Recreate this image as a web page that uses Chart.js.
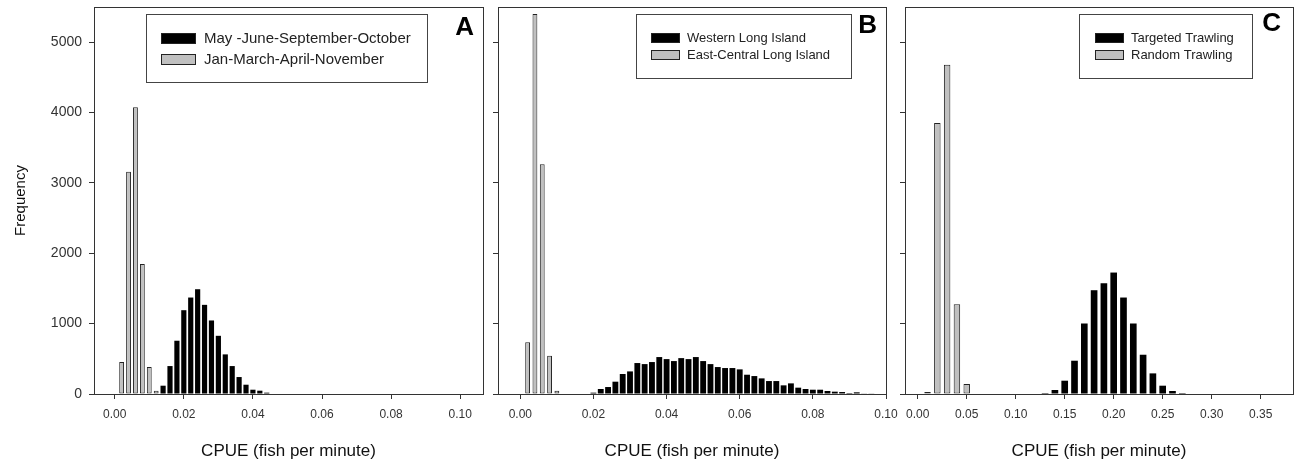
<!DOCTYPE html>
<html>
<head>
<meta charset="utf-8">
<script src="https://cdn.jsdelivr.net/npm/chart.js@4.4.1/dist/chart.umd.min.js"></script>
<style>
html, body { margin: 0; padding: 0; background: #fff; }
#wrap { position: relative; width: 1297px; height: 465px; overflow: hidden; }
canvas { position: absolute; top: 0; }
</style>
</head>
<body>
<div id="wrap">
<canvas id="grafA" width="488" height="465" style="left:0px"></canvas>
<canvas id="grafB" width="420" height="465" style="left:488px"></canvas>
<canvas id="grafC" width="404" height="465" style="left:893px"></canvas>
</div>
<script>
// bin centres (CPUE) and frequencies for each histogram

// A - season
const cpueA_nero = [0.014,0.016,0.018,0.020,0.022,0.024,0.026,0.028,0.030,0.032,0.034,0.036,0.038,0.040,0.042,0.044];
const freqA_nero = [118,397,757,1191,1371,1489,1267,1045,827,563,397,241,132,61,47,19];
const cpueA_grigio = [0.002,0.004,0.006,0.008,0.010,0.012];
const freqA_grigio = [454,3158,4074,1848,383,45];

// B - area
const cpueB_nero = [0.020,0.022,0.024,0.026,0.028,0.030,0.032,0.034,0.036,0.038,
                    0.040,0.042,0.044,0.046,0.048,0.050,0.052,0.054,0.056,0.058,
                    0.060,0.062,0.064,0.066,0.068,0.070,0.072,0.074,0.076,0.078,
                    0.080,0.082,0.084,0.086,0.088,0.090,0.092,0.094,0.096];
const freqB_nero = [19,71,99,175,284,321,440,425,454,525,
                    496,468,510,496,525,468,425,383,369,369,
                    350,274,255,222,184,184,123,151,90,71,
                    61,61,43,33,28,14,24,9,9];
const cpueB_grigio = [0.002,0.004,0.006,0.008,0.010];
const freqB_grigio = [737,5402,3266,543,47];

// C - trawling
const cpueC_nero = [0.13,0.14,0.15,0.16,0.17,0.18,0.19,0.20,0.21,0.22,0.23,0.24,0.25,0.26,0.27];
const freqC_nero = [14,57,189,473,1002,1475,1574,1726,1371,1002,558,293,118,43,14];
const cpueC_grigio = [0.01,0.02,0.03,0.04,0.05];
const freqC_grigio = [28,3852,4679,1276,142];

const etichetteA = ["May -June-September-October", "Jan-March-April-November"];
const etichetteB = ["Western Long Island", "East-Central Long Island"];
const etichetteC = ["Targeted Trawling", "Random Trawling"];

const tickX_AB = [0, 0.02, 0.04, 0.06, 0.08, 0.10];
const tickX_C = [0, 0.05, 0.10, 0.15, 0.20, 0.25, 0.30, 0.35];
const tickY = [0, 1000, 2000, 3000, 4000, 5000];

const FONT = "'Liberation Sans', Arial, sans-serif";

// frame, letter and boxed legend drawn inside the plot area
const cornice = {
	id: 'cornice',
	afterDraw(chart, args, opt) {
		const ctx = chart.ctx;
		const a = chart.chartArea;
		ctx.save();
		ctx.strokeStyle = '#333';
		ctx.lineWidth = 1;
		ctx.strokeRect(Math.round(a.left) + 0.5, Math.round(a.top) + 0.5,
			Math.round(a.right - a.left), Math.round(a.bottom - a.top));

		ctx.fillStyle = '#000';
		ctx.font = 'bold 26px ' + FONT;
		ctx.textAlign = 'right';
		ctx.textBaseline = 'middle';
		ctx.fillText(opt.lettera, a.right - opt.lettDx, a.top + opt.lettDy);

		const L = opt.legenda;
		const bx = Math.round(a.left + L.x), by = Math.round(a.top + L.y);
		ctx.fillStyle = '#fff';
		ctx.fillRect(bx, by, L.w, L.h);
		ctx.strokeStyle = '#444';
		ctx.strokeRect(bx + 0.5, by + 0.5, L.w, L.h);
		chart.data.datasets.forEach(function(ds, i) {
			const ry = by + L.righe[i];
			ctx.fillStyle = ds.backgroundColor;
			ctx.fillRect(bx + L.sx, ry, L.sw, L.sh);
			ctx.strokeStyle = '#222';
			ctx.strokeRect(bx + L.sx + 0.5, ry + 0.5, L.sw - 1, L.sh - 1);
			ctx.fillStyle = '#222';
			ctx.font = L.font;
			ctx.textAlign = 'left';
			ctx.textBaseline = 'middle';
			ctx.fillText(ds.label, bx + L.tx, ry + L.sh / 2 + 0.5);
		});
		ctx.restore();
	}
};

function punti(xs, ys) {
	return xs.map(function(x, i) { return {x: x, y: ys[i]}; });
}

function istogramma(id, cfg) {
	return new Chart(document.getElementById(id), {
		type: 'bar',
		data: {
			datasets: [{
				label: cfg.etichette[0],
				data: punti(cfg.xNero, cfg.yNero),
				backgroundColor: '#000000',
				borderWidth: 0,
				grouped: false,
				categoryPercentage: 1,
				barPercentage: cfg.barNero
			}, {
				label: cfg.etichette[1],
				data: punti(cfg.xGrigio, cfg.yGrigio),
				backgroundColor: '#c0c0c0',
				borderColor: '#222222',
				borderWidth: 1,
				borderSkipped: false,
				grouped: false,
				categoryPercentage: 1,
				barPercentage: cfg.barGrigio
			}]
		},
		options: {
			responsive: false,
			animation: false,
			events: [],
			layout: { padding: { top: 7, right: cfg.padDx, left: 0, bottom: 0 } },
			plugins: {
				legend: { display: false },
				tooltip: { enabled: false },
				cornice: {
					lettera: cfg.lettera,
					lettDx: cfg.lettDx,
					lettDy: cfg.lettDy,
					legenda: cfg.legenda
				}
			},
			scales: {
				x: {
					type: 'linear',
					min: cfg.xMin,
					max: cfg.xMax,
					offset: false,
					afterBuildTicks: function(s) { s.ticks = cfg.tickX.map(function(v) { return {value: v}; }); },
					afterFit: function(s) { s.height = 71; s.paddingLeft = 0; s.paddingRight = 0; },
					border: { display: false },
					grid: { offset: false, drawOnChartArea: false, drawTicks: true, tickLength: 5, color: '#333' },
					ticks: {
						autoSkip: false,
						maxRotation: 0,
						padding: 8,
						color: '#333',
						font: { family: FONT, size: 12 },
						callback: function(v) { return v.toFixed(2); }
					},
					title: {
						display: true,
						text: 'CPUE (fish per minute)',
						color: '#111',
						font: { family: FONT, size: 17 },
						padding: { top: 0, bottom: 3 }
					}
				},
				y: {
					min: 0,
					max: 5500,
					afterBuildTicks: function(s) { s.ticks = tickY.map(function(v) { return {value: v}; }); },
					afterFit: function(s) { s.width = cfg.larghezzaY; s.paddingTop = 0; s.paddingBottom = 0; },
					border: { display: false },
					grid: { drawOnChartArea: false, drawTicks: true, tickLength: 5, color: '#333' },
					ticks: {
						display: cfg.mostraY,
						padding: 7,
						color: '#333',
						font: { family: FONT, size: 14 },
						callback: function(v) { return String(v); }
					},
					title: {
						display: cfg.mostraY,
						text: 'Frequency',
						color: '#111',
						font: { family: FONT, size: 15 },
						padding: { top: 12, bottom: 0 }
					}
				}
			}
		},
		plugins: [cornice]
	});
}

istogramma("grafA", {
	xNero: cpueA_nero, yNero: freqA_nero, xGrigio: cpueA_grigio, yGrigio: freqA_grigio,
	etichette: etichetteA, tickX: tickX_AB, xMin: -0.006, xMax: 0.1066,
	barNero: 0.75, barGrigio: 0.7,
	larghezzaY: 94, mostraY: true, padDx: 5,
	lettera: 'A', lettDx: 9, lettDy: 21,
	legenda: { x: 52, y: 7, w: 281, h: 68, sx: 15, sw: 35, sh: 11, righe: [19, 40], tx: 58, font: '15px ' + FONT }
});

istogramma("grafB", {
	xNero: cpueB_nero, yNero: freqB_nero, xGrigio: cpueB_grigio, yGrigio: freqB_grigio,
	etichette: etichetteB, tickX: tickX_AB, xMin: -0.0061, xMax: 0.100,
	barNero: 0.8, barGrigio: 0.66,
	larghezzaY: 10, mostraY: false, padDx: 22,
	lettera: 'B', lettDx: 9, lettDy: 19,
	legenda: { x: 138, y: 7, w: 215, h: 64, sx: 15, sw: 29, sh: 10, righe: [19, 36], tx: 51, font: '13px ' + FONT }
});

istogramma("grafC", {
	xNero: cpueC_nero, yNero: freqC_nero, xGrigio: cpueC_grigio, yGrigio: freqC_grigio,
	etichette: etichetteC, tickX: tickX_C, xMin: -0.013, xMax: 0.383,
	barNero: 0.68, barGrigio: 0.66,
	larghezzaY: 12, mostraY: false, padDx: 4,
	lettera: 'C', lettDx: 12, lettDy: 17,
	legenda: { x: 174, y: 7, w: 173, h: 64, sx: 16, sw: 29, sh: 10, righe: [19, 36], tx: 52, font: '13px ' + FONT }
});
</script>
</body>
</html>
